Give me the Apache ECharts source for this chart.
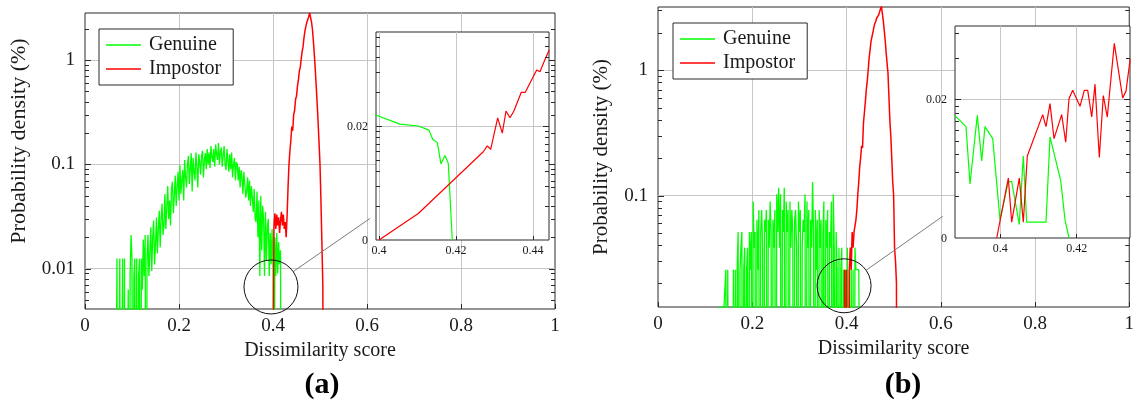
<!DOCTYPE html>
<html>
<head>
<meta charset="utf-8">
<script src="https://cdn.jsdelivr.net/npm/echarts@6/dist/echarts.min.js"></script>
<style>
  html, body { margin: 0; padding: 0; background: #fff; }
  #chart { width: 1137px; height: 406px; }
</style>
</head>
<body>
<div id="chart"></div>
<script>
// Score histograms (probability density, %) for genuine and impostor comparisons,
// binned every 0.002 of dissimilarity score. Empty bins are stored as 0.
const BIN = 0.002;

// Panel (a)
const genuineAStart = 0.064;
const genuineA = [
  0, 0, 0.0125, 0, 0, 0.0125, 0, 0, 0.0125, 0,
  0.0125, 0, 0, 0, 0.0063, 0, 0.0085, 0.021, 0.0125, 0,
  0.0085, 0.0125, 0, 0.0125, 0, 0.0085, 0.0125, 0, 0.0125, 0.0063,
  0.019, 0.0085, 0.021, 0, 0.0125, 0.021, 0.0085, 0.014, 0.025, 0.0095,
  0.02, 0.029, 0.011, 0.017, 0.031, 0.014, 0.024, 0.036, 0.016, 0.03,
  0.042, 0.021, 0.026, 0.052, 0.024, 0.038, 0.062, 0.03, 0.045, 0.026,
  0.058, 0.068, 0.034, 0.05, 0.078, 0.04, 0.06, 0.085, 0.045, 0.098,
  0.052, 0.07, 0.088, 0.045, 0.11, 0.075, 0.06, 0.1, 0.12, 0.065,
  0.09, 0.128, 0.055, 0.115, 0.085, 0.07, 0.13, 0.095, 0.06, 0.125,
  0.105, 0.08, 0.12, 0.135, 0.075, 0.11, 0.128, 0.09, 0.14, 0.1,
  0.13, 0.092, 0.15, 0.118, 0.105, 0.14, 0.095, 0.155, 0.125, 0.11,
  0.16, 0.1, 0.13, 0.145, 0.095, 0.12, 0.15, 0.1, 0.088, 0.14,
  0.11, 0.085, 0.125, 0.09, 0.13, 0.075, 0.1, 0.115, 0.07, 0.105,
  0.1, 0.07, 0.095, 0.06, 0.088, 0.075, 0.052, 0.085, 0.065, 0.048,
  0.055, 0.075, 0.045, 0.07, 0.04, 0.062, 0.048, 0.035, 0.058, 0.03,
  0.028, 0.055, 0.02, 0.045, 0.0085, 0.05, 0.015, 0.04, 0.03, 0.0085,
  0.035, 0.012, 0.025, 0.03, 0.0085, 0.022, 0.011, 0.024, 0.01, 0,
  0.02, 0.0085, 0.022, 0.009, 0.018, 0.011, 0.015, 0, 0
];
const impostorAStart = 0.398;
const impostorA = [
  0, 0, 0.025, 0.034, 0.024, 0.033, 0.026, 0.031, 0.022, 0.029,
  0.035, 0.026, 0.033, 0.024, 0.028, 0.02, 0.032, 0.06, 0.1, 0.135,
  0.17, 0.23, 0.21, 0.3, 0.33, 0.42, 0.45, 0.56, 0.64, 0.78,
  0.85, 1.02, 1.2, 1.35, 1.65, 1.9, 2.1, 2.3, 2.45, 2.6,
  2.85, 2.55, 2.3, 1.95, 1.5, 1.12, 0.8, 0.56, 0.38, 0.25,
  0.16, 0.1, 0.045, 0.018, 0.007, 0
];

// Panel (b)
const genuineBStart = 0.128;
const genuineB = [
  0.0128, 0.0128, 0.0128, 0.0128, 0.0128, 0.0128, 0.0128, 0.0128, 0.0256, 0,
  0.0256, 0.0256, 0, 0, 0, 0, 0.0256, 0, 0.0256, 0,
  0.0256, 0.0512, 0, 0.0256, 0.0384, 0.0512, 0, 0.0256, 0.0384, 0,
  0.0256, 0.0384, 0, 0.0512, 0.0256, 0.0512, 0, 0.0896, 0.0384, 0.0512,
  0, 0.064, 0.0256, 0.0768, 0, 0.0512, 0.0768, 0.0384, 0, 0.064,
  0.0512, 0.0768, 0, 0.064, 0.0384, 0.0896, 0.0512, 0, 0.064, 0.0384,
  0.0768, 0, 0.1024, 0.0512, 0.1152, 0.0384, 0.1024, 0, 0.0768, 0.0512,
  0.1152, 0, 0.0896, 0.0512, 0.0768, 0, 0.0896, 0.0384, 0.0768, 0.0512,
  0, 0.064, 0.0768, 0.0384, 0, 0.0896, 0.0512, 0.0768, 0, 0.0384,
  0.064, 0.0512, 0.1024, 0, 0.0896, 0.0384, 0.0768, 0, 0.064, 0.0384,
  0.128, 0.0512, 0, 0.0768, 0.0256, 0.064, 0, 0.0768, 0.0384, 0.064,
  0, 0.0512, 0.0896, 0, 0.064, 0.0384, 0.0768, 0, 0.0512, 0.0384,
  0.0896, 0, 0.1024, 0.0384, 0, 0.0512, 0.0256, 0, 0.0384, 0,
  0.0256, 0.0384, 0, 0.0256, 0, 0.0256, 0, 0.0384, 0, 0.0256,
  0, 0.0384, 0, 0.0256, 0, 0.0384, 0.0256, 0.0256, 0.0256, 0.0256,
  0.0256, 0.0256, 0
];
const impostorBStart = 0.394;
const impostorB = [
  0, 0.0256, 0, 0.0256, 0.0256, 0, 0.0256, 0.0384, 0.0256, 0.0512,
  0.0384, 0.0512, 0.0512, 0.064, 0.0768, 0.1024, 0.128, 0.17, 0.2, 0.25,
  0.24, 0.38, 0.46, 0.56, 0.7, 0.82, 1.0, 1.25, 1.45, 1.7,
  1.85, 2.0, 2.2, 2.35, 2.45, 2.6, 2.55, 2.75, 2.9, 2.8,
  3.25, 2.85, 2.5, 2.1, 1.75, 1.4, 1.15, 0.95, 0.62, 0.4,
  0.3, 0.2, 0.13, 0.1, 0.038, 0.03, 0.02, 0
];

// Magnified views around the overlap region: [score, density]
const insetAGenuine = [
  [0.3990, 0.0251], [0.40545, 0.0208], [0.41021, 0.0200], [0.41299, 0.0184],
  [0.41394, 0.0153], [0.41515, 0.0143], [0.41610, 0.0093], [0.41714, 0.0110],
  [0.41800, 0.0094], [0.41904, 0.0020]
];
const insetAImpostor = [
  [0.40000, 0.0020], [0.41021, 0.00342], [0.42709, 0.0119], [0.42813, 0.0134],
  [0.42901, 0.0125], [0.43083, 0.0236], [0.43203, 0.0173], [0.43299, 0.0271],
  [0.43403, 0.0236], [0.43507, 0.0272], [0.43696, 0.0395], [0.43800, 0.0395],
  [0.44096, 0.0619], [0.44182, 0.0598], [0.44268, 0.0708], [0.44420, 0.0930]
];
const insetBGenuine = [
  [0.38806, 0.0153], [0.39102, 0.0127], [0.39207, 0.0049], [0.39398, 0.0153],
  [0.39513, 0.0072], [0.39599, 0.0127], [0.39801, 0.0104], [0.39992, 0.0027],
  [0.40210, 0.0051], [0.40298, 0.0051], [0.40497, 0.0025], [0.40602, 0.0078],
  [0.40691, 0.0026], [0.41196, 0.0026], [0.41301, 0.0107], [0.41581, 0.0052],
  [0.41694, 0.0027], [0.41798, 0.0020]
];
const insetBImpostor = [
  [0.39906, 0.0020], [0.40210, 0.0054], [0.40298, 0.0026], [0.40497, 0.0054],
  [0.40602, 0.0026], [0.40707, 0.0078], [0.41110, 0.0155], [0.41196, 0.0127],
  [0.41301, 0.0186], [0.41406, 0.0104], [0.41607, 0.0155], [0.41712, 0.0098],
  [0.41798, 0.0202], [0.41895, 0.0232], [0.42086, 0.0178], [0.42199, 0.0232],
  [0.42288, 0.0232], [0.42393, 0.0149], [0.42479, 0.0257], [0.42592, 0.0076],
  [0.42696, 0.0213], [0.42801, 0.0149], [0.42984, 0.0506], [0.43204, 0.0204],
  [0.43290, 0.0229], [0.43400, 0.0390]
];

// Axis ranges
const mainARange = { xMin: 0, xMax: 1, yMin: 0.004108, yMax: 2.822 };
const mainBRange = { xMin: 0, xMax: 1, yMin: 0.0129, yMax: 3.198 };
const insetARange = { xMin: 0.39922, xMax: 0.44416, yMin: 0.002, yMax: 0.1336 };
const insetBRange = { xMin: 0.38814, xMax: 0.43395, yMin: 0.002, yMax: 0.0675 };

// Log-axis tick marks (major decades and minor 2..9 subdivisions)
const majorTicksA = [0.01, 0.1, 1];
const minorTicksA = [0.005, 0.006, 0.007, 0.008, 0.009,
  0.02, 0.03, 0.04, 0.05, 0.06, 0.07, 0.08, 0.09,
  0.2, 0.3, 0.4, 0.5, 0.6, 0.7, 0.8, 0.9, 2];
const majorTicksB = [0.1, 1];
const minorTicksB = [0.02, 0.03, 0.04, 0.05, 0.06, 0.07, 0.08, 0.09,
  0.2, 0.3, 0.4, 0.5, 0.6, 0.7, 0.8, 0.9, 2, 3];
const insetMajorTicks = [0.002, 0.02];
const insetMinorTicksA = [0.004, 0.006, 0.008, 0.01, 0.012, 0.014, 0.016, 0.018,
  0.04, 0.06, 0.08, 0.1, 0.12];
const insetMinorTicksB = [0.004, 0.006, 0.008, 0.01, 0.012, 0.014, 0.016, 0.018,
  0.04, 0.06];

// Zoom markers: circle centre and connector end, in data coordinates
const spyA = [0.3957, 0.00668, 0.6064, 0.0303];
const spyB = [0.3948, 0.01905, 0.6042, 0.0683];

const FONT = "'Liberation Serif', 'DejaVu Serif', serif";
const TEXT = '#1a1a1a';
const GRID_LINE = '#c6c6c6';
const FRAME = '#2a2a2a';
const GREEN = '#00ff00';
const RED = '#ff0000';
const LOG_FLOOR = 1e-5;   // empty bins fall far below the visible range

function binned(start, values) {
  return values.map((v, i) => [+(start + i * BIN).toFixed(4), v > 0 ? v : LOG_FLOOR]);
}

function lineSeries(name, idx, data, color, z, width) {
  return {
    name, type: 'line', xAxisIndex: idx, yAxisIndex: idx, data,
    symbol: 'none', showSymbol: false, z, silent: true, animation: false,
    lineStyle: { color, width }, itemStyle: { color },
    clip: true
  };
}

function edgeTicks(idx, range, majors, minors, z) {
  const data = majors.map(v => [range.xMin, v, 6]).concat(minors.map(v => [range.xMin, v, 4]));
  return {
    type: 'custom', xAxisIndex: idx, yAxisIndex: idx, z, silent: true, animation: false,
    data,
    renderItem(params, api) {
      const cs = params.coordSys;
      const y = Math.round(api.coord([api.value(0), api.value(1)])[1]) + 0.5;
      const len = api.value(2);
      const st = { stroke: FRAME, lineWidth: 1 };
      return {
        type: 'group', children: [
          { type: 'line', shape: { x1: cs.x, y1: y, x2: cs.x + len, y2: y }, style: st },
          { type: 'line', shape: { x1: cs.x + cs.width - len, y1: y, x2: cs.x + cs.width, y2: y }, style: st }
        ]
      };
    }
  };
}

// Inset y axis: grid line and labels at the decade marks
function insetYAxis(idx, range, z) {
  return {
    type: 'custom', xAxisIndex: idx, yAxisIndex: idx, z, silent: true, animation: false,
    data: insetMajorTicks.map(v => [range.xMin, v]),
    renderItem(params, api) {
      const cs = params.coordSys;
      const v = api.value(1);
      const y = Math.round(api.coord([api.value(0), v])[1]) + 0.5;
      const children = [{
        type: 'text',
        style: {
          text: String(+v.toFixed(2)), x: cs.x - 8, y: y,
          align: 'right', verticalAlign: 'middle',
          font: '12px ' + FONT, fill: TEXT
        }
      }];
      if (y < cs.y + cs.height - 2) {
        children.unshift({ type: 'line', shape: { x1: cs.x, y1: y, x2: cs.x + cs.width, y2: y },
          style: { stroke: GRID_LINE, lineWidth: 1 } });
      }
      return { type: 'group', children };
    }
  };
}

function spyMarker(idx, spec, z) {
  return {
    type: 'custom', xAxisIndex: idx, yAxisIndex: idx, z, silent: true, animation: false,
    clip: false,
    data: [spec],
    renderItem(params, api) {
      const c = api.coord([api.value(0), api.value(1)]);
      const t = api.coord([api.value(2), api.value(3)]);
      const dx = t[0] - c[0], dy = t[1] - c[1];
      const d = Math.hypot(dx, dy);
      const R = 27;
      return {
        type: 'group', children: [
          { type: 'line', shape: { x1: c[0] + dx / d * R, y1: c[1] + dy / d * R, x2: t[0], y2: t[1] },
            style: { stroke: '#7c7c7c', lineWidth: 1 } },
          { type: 'circle', shape: { cx: c[0], cy: c[1], r: R },
            style: { fill: 'none', stroke: '#111', lineWidth: 1 } }
        ]
      };
    }
  };
}

function mainX(idx) {
  return {
    type: 'value', gridIndex: idx, min: 0, max: 1, interval: 0.2,
    name: 'Dissimilarity score', nameLocation: 'middle', nameGap: 31,
    nameTextStyle: { fontFamily: FONT, fontSize: 20, color: TEXT },
    axisLine: { show: false },
    axisTick: { show: true, inside: true, length: 5, lineStyle: { color: FRAME } },
    axisLabel: { fontFamily: FONT, fontSize: 19, color: TEXT, margin: 8 },
    splitLine: { show: true, showMinLine: false, showMaxLine: false, lineStyle: { color: GRID_LINE, width: 1 } }
  };
}

function mainY(idx, range, nameGap, nameSize, namePad) {
  return {
    type: 'log', logBase: 10, gridIndex: idx, min: range.yMin, max: range.yMax,
    name: 'Probability density (%)', nameLocation: 'middle', nameGap,
    nameTextStyle: { fontFamily: FONT, fontSize: nameSize, color: TEXT, padding: namePad },
    axisLine: { show: false },
    axisTick: { show: false },
    axisLabel: { fontFamily: FONT, fontSize: 19, color: TEXT, margin: 10, showMinLabel: false, showMaxLabel: false },
    splitLine: { show: true, showMinLine: false, showMaxLine: false, lineStyle: { color: GRID_LINE, width: 1 } }
  };
}

function insetX(idx, range) {
  return {
    type: 'value', gridIndex: idx, min: range.xMin, max: range.xMax, splitNumber: 2, z: 6,
    axisLine: { show: false },
    axisTick: { show: true, inside: true, length: 4, lineStyle: { color: FRAME } },
    axisLabel: { fontFamily: FONT, fontSize: 12, color: TEXT, margin: 5, showMinLabel: false, showMaxLabel: false },
    splitLine: { show: true, showMinLine: false, showMaxLine: false, lineStyle: { color: GRID_LINE, width: 1 } }
  };
}

function insetY(idx, range) {
  return {
    type: 'log', logBase: 10, gridIndex: idx, min: range.yMin, max: range.yMax, z: 6,
    axisLine: { show: false }, axisTick: { show: false },
    axisLabel: { show: false }, splitLine: { show: false }
  };
}

function legendBox(left, top) {
  return {
    left, top, orient: 'vertical', data: ['Genuine', 'Impostor'],
    icon: 'rect', itemWidth: 35, itemHeight: 1.5, itemGap: 4, selectedMode: false,
    padding: [6, 12, 6, 7],
    borderColor: FRAME, borderWidth: 1, backgroundColor: '#fff',
    textStyle: { fontFamily: FONT, fontSize: 20, color: TEXT, lineHeight: 20, padding: [0, 0, 0, 3] }
  };
}

const option = {
  animation: false,
  backgroundColor: '#fff',
  grid: [
    { left: 85, top: 13, width: 470, height: 296, show: true, borderColor: FRAME, borderWidth: 1, backgroundColor: 'transparent' },
    { left: 658, top: 7, width: 480, height: 300, show: true, borderColor: FRAME, borderWidth: 1, backgroundColor: 'transparent' },
    { left: 376, top: 32, width: 173, height: 208, show: true, borderColor: FRAME, borderWidth: 1, backgroundColor: '#fff', z: 5 },
    { left: 955, top: 26, width: 175, height: 212, show: true, borderColor: FRAME, borderWidth: 1, backgroundColor: '#fff', z: 5 }
  ],
  xAxis: [mainX(0), mainX(1), insetX(2, insetARange), insetX(3, insetBRange)],
  yAxis: [
    mainY(0, mainARange, 55, 22, [0, 0, 0, 40]),
    mainY(1, mainBRange, 46, 21, 0),
    insetY(2, insetARange), insetY(3, insetBRange)
  ],
  legend: [legendBox(99, 29), legendBox(673, 23)],
  series: [
    lineSeries('Genuine', 0, binned(genuineAStart, genuineA), GREEN, 2, 1.3),
    lineSeries('Impostor', 0, binned(impostorAStart, impostorA), RED, 2, 1.5),
    lineSeries('Genuine', 1, binned(genuineBStart, genuineB), GREEN, 2, 1.3),
    lineSeries('Impostor', 1, binned(impostorBStart, impostorB), RED, 2, 1.5),
    spyMarker(0, spyA, 3),
    spyMarker(1, spyB, 3),
    edgeTicks(0, mainARange, majorTicksA, minorTicksA, 3),
    edgeTicks(1, mainBRange, majorTicksB, minorTicksB, 3),
    insetYAxis(2, insetARange, 6),
    insetYAxis(3, insetBRange, 6),
    lineSeries('Genuine', 2, insetAGenuine, GREEN, 7, 1.2),
    lineSeries('Impostor', 2, insetAImpostor, RED, 7, 1.2),
    lineSeries('Genuine', 3, insetBGenuine, GREEN, 7, 1.2),
    lineSeries('Impostor', 3, insetBImpostor, RED, 7, 1.2),
    edgeTicks(2, insetARange, [0.02], insetMinorTicksA, 8),
    edgeTicks(3, insetBRange, [0.02], insetMinorTicksB, 8)
  ],
  graphic: [
    { type: 'text', x: 322, y: 385, z: 10,
      style: { text: '(a)', font: 'bold 30px ' + FONT, fill: '#000', align: 'center', verticalAlign: 'middle' } },
    { type: 'text', x: 903, y: 385, z: 10,
      style: { text: '(b)', font: 'bold 30px ' + FONT, fill: '#000', align: 'center', verticalAlign: 'middle' } }
  ]
};

const chart = echarts.init(document.getElementById('chart'), null, { renderer: 'canvas' });
chart.setOption(option);
</script>
</body>
</html>
